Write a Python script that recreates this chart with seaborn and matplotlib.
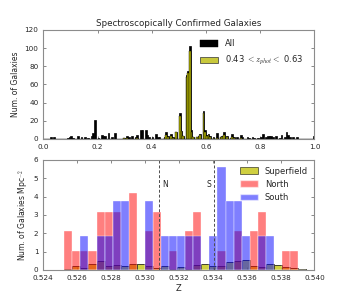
import numpy as np
import pandas as pd
import matplotlib
matplotlib.use("Agg")
import matplotlib.pyplot as plt
import seaborn as sns
from matplotlib.patches import Patch

# ---------------- data: top panel (spectroscopic redshifts) ----------------
all_z = [0.028, 0.040, 0.088, 0.095, 0.102, 0.110, 0.126, 0.140, 0.155, 0.165,
         0.178, 0.184, 0.189, 0.205, 0.215, 0.222, 0.230, 0.243, 0.255, 0.268,
         0.297, 0.310, 0.318, 0.326, 0.340, 0.348, 0.357, 0.366, 0.378, 0.385,
         0.393, 0.401, 0.413, 0.420, 0.430, 0.447, 0.455, 0.462, 0.470, 0.480,
         0.490, 0.502, 0.508, 0.515, 0.527, 0.533, 0.539, 0.545, 0.552, 0.565,
         0.572, 0.580, 0.590, 0.597, 0.604, 0.611, 0.618, 0.630, 0.640, 0.655,
         0.662, 0.667, 0.675, 0.690, 0.698, 0.706, 0.714, 0.730, 0.737, 0.751,
         0.760, 0.770, 0.780, 0.790, 0.801, 0.810, 0.820, 0.828, 0.835, 0.843,
         0.850, 0.857, 0.870, 0.880, 0.890, 0.898, 0.905, 0.912, 0.920, 0.933,
         0.995]
all_n = [2, 2, 1, 2, 3, 1, 3, 2, 2, 1,
         3, 7, 21, 1, 4, 3, 3, 6, 2, 6,
         1, 3, 2, 3, 2, 4, 10, 10, 10, 4,
         2, 2, 5, 2, 2, 2, 8, 3, 5, 2,
         8, 29, 9, 3, 70, 75, 102, 10, 2, 2,
         3, 5, 31, 10, 4, 5, 3, 2, 6, 2,
         3, 8, 3, 1, 5, 2, 2, 4, 2, 2,
         1, 2, 1, 1, 2, 5, 2, 3, 3, 3,
         2, 3, 1, 4, 2, 8, 4, 2, 2, 2,
         3]

sel_z = [0.297, 0.310, 0.348, 0.447, 0.455, 0.462, 0.470, 0.480, 0.490, 0.502,
         0.508, 0.515, 0.527, 0.533, 0.539, 0.545, 0.552, 0.565, 0.572, 0.580,
         0.590, 0.597, 0.604, 0.611, 0.618, 0.630, 0.640, 0.655, 0.662, 0.667,
         0.675, 0.698, 0.706, 0.730]
sel_n = [1, 1, 1, 1, 4, 2, 3, 1, 8, 25,
         9, 3, 68, 73, 97, 8, 2, 2, 2, 4,
         28, 8, 3, 4, 2, 1, 1, 2, 2, 4,
         2, 2, 1, 1]

# ---------------- data: bottom panel (surface density per bin) ----------------
z_lo, z_hi, n_bins = 0.52524, 0.53951, 30
north_counts = [2, 1, 1, 1, 3, 3, 3, 0, 4, 0, 2, 3, 0, 1, 0,
                2, 3, 0, 0, 1, 0, 2, 0, 2, 3, 0, 0, 1, 1, 0]
south_counts = [0, 0, 2, 0, 2, 2, 4, 4, 0, 0, 4, 0, 2, 2, 2,
                2, 2, 0, 2, 6, 4, 4, 2, 0, 2, 2, 0, 0, 0, 0]
north_per_gal = 1.05     # Mpc^-2 per galaxy
south_per_gal = 0.9375
superfield = [0.03, 0.22, 0.10, 0.30, 0.47, 0.22, 0.25, 0.20, 0.30, 0.33,
              0.20, 0.10, 0.20, 0.08, 0.15, 0.07, 0.25, 0.33, 0.20, 0.20,
              0.42, 0.50, 0.55, 0.22, 0.15, 0.33, 0.27, 0.15, 0.10, 0.07]
z_north, z_south = 0.5308, 0.5341

# ---------------- style ----------------
sns.set_style("white")
plt.rcParams.update({
    "font.family": ["DejaVu Sans"],
    "mathtext.fontset": "cm",
    "xtick.direction": "in", "ytick.direction": "in",
    "xtick.top": True, "ytick.right": True,
    "xtick.bottom": True, "ytick.left": True,
    "xtick.major.size": 2.5, "ytick.major.size": 2.5,
    "xtick.major.width": 0.5, "ytick.major.width": 0.5,
    "xtick.color": "0.35", "ytick.color": "0.35",
    "xtick.labelcolor": "0.15", "ytick.labelcolor": "0.15",
    "xtick.labelsize": 5.2, "ytick.labelsize": 5.2,
    "axes.edgecolor": "0.55", "axes.linewidth": 0.8,
})

fig = plt.figure(figsize=(3.49, 3.0), dpi=100)
ax1 = fig.add_axes([0.124, 0.537, 0.777, 0.363])
ax2 = fig.add_axes([0.124, 0.100, 0.777, 0.367])

# ---- top histogram ----
edges_top = list(np.linspace(0, 1, 161))
df_all = pd.DataFrame({"z": all_z, "n": all_n})
df_sel = pd.DataFrame({"z": sel_z, "n": sel_n})
sns.histplot(data=df_all, x="z", weights="n", bins=edges_top, ax=ax1,
             color="k", alpha=1, edgecolor="k", linewidth=0.5)
sns.histplot(data=df_sel, x="z", weights="n", bins=edges_top, ax=ax1,
             color="#b4b400", alpha=1, edgecolor="k", linewidth=0.3)
ax1.set_xlim(0, 1)
ax1.set_ylim(0, 120)
ax1.set_xticks(np.arange(0, 1.01, 0.2))
ax1.set_yticks(np.arange(0, 121, 20))
ax1.set_xticklabels([f"{v:.1f}" for v in np.arange(0, 1.01, 0.2)])
ax1.set_ylabel("Num. of Galaxies", fontsize=5.5, labelpad=3)
ax1.set_xlabel("")
ax1.set_title("Spectroscopically Confirmed Galaxies", fontsize=6.3, pad=3)
h1 = [Patch(facecolor="k", edgecolor="k", linewidth=0.3),
      Patch(facecolor="#c8c83c", edgecolor="0.2", linewidth=0.5)]
ax1.legend(h1, ["All", r"0.43 $<z_{phot}<$ 0.63"], loc="upper right",
           frameon=False, fontsize=6, handlelength=2.2, handleheight=0.9,
           borderaxespad=0.6, labelspacing=0.7, bbox_to_anchor=(0.99, 0.99))

# ---- bottom histograms ----
edges_arr = np.linspace(z_lo, z_hi, n_bins + 1)
centers = 0.5 * (edges_arr[:-1] + edges_arr[1:])
edges_b = list(edges_arr)
df_b = pd.DataFrame({
    "z": centers,
    "superfield": superfield,
    "north": np.array(north_counts) * north_per_gal,
    "south": np.array(south_counts) * south_per_gal,
})
sns.histplot(data=df_b, x="z", weights="superfield", bins=edges_b, ax=ax2,
             color="y", alpha=0.75, edgecolor="k", linewidth=0.5)
sns.histplot(data=df_b, x="z", weights="north", bins=edges_b, ax=ax2,
             color="red", alpha=0.5, edgecolor="white", linewidth=0.25)
sns.histplot(data=df_b, x="z", weights="south", bins=edges_b, ax=ax2,
             color="blue", alpha=0.5, edgecolor="white", linewidth=0.25)
ax2.axvline(z_north, color="0.3", ls="--", lw=0.7, dashes=(3, 2))
ax2.axvline(z_south, color="0.3", ls="--", lw=0.7, dashes=(3, 2))
ax2.text(z_north + 0.0002, 4.65, "N", fontsize=5.5, ha="left", va="center")
ax2.text(z_south - 0.0002, 4.65, "S", fontsize=5.5, ha="right", va="center")
ax2.set_xlim(0.524, 0.540)
ax2.set_ylim(0, 6)
xt = np.arange(0.524, 0.5401, 0.002)
ax2.set_xticks(xt)
ax2.set_xticklabels([f"{v:.3f}" for v in xt])
ax2.set_yticks(range(0, 7))
ax2.set_xlabel("Z", fontsize=6, labelpad=2)
ax2.set_ylabel(r"Num. of Galaxies Mpc$^{-2}$", fontsize=5.5, labelpad=2)
h2 = [Patch(facecolor="y", alpha=0.75, edgecolor="k", linewidth=0.5),
      Patch(facecolor="red", alpha=0.5, edgecolor="white"),
      Patch(facecolor="blue", alpha=0.5, edgecolor="white")]
ax2.legend(h2, ["Superfield", "North", "South"], loc="upper right",
           frameon=False, fontsize=6, handlelength=2.2, handleheight=0.9,
           labelspacing=0.5, borderaxespad=0.4)

fig.savefig("out.png", dpi=100)
